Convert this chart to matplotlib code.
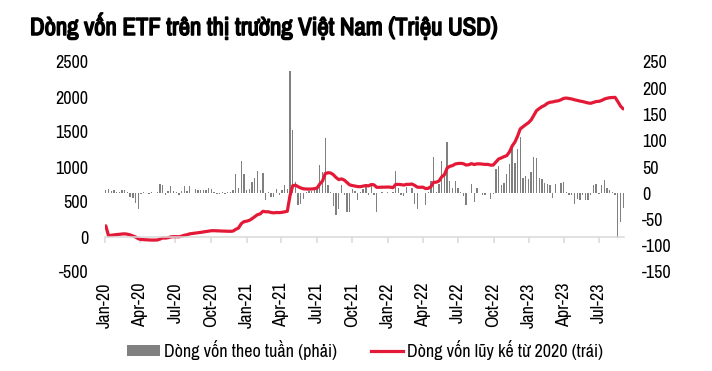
import matplotlib
matplotlib.use("Agg")
import matplotlib.pyplot as plt
import matplotlib.dates as mdates
import matplotlib.patheffects as pe
from matplotlib import font_manager as fm
from matplotlib.patches import Patch
import pandas as pd

# tìm font hẹp nếu có
ten_font = sorted({f.name for f in fm.fontManager.ttflist})
hep = [n for n in ten_font if "narrow" in n.lower() or "condensed" in n.lower()]
plt.rcParams['font.family'] = hep[:1] + ['DejaVu Sans']
plt.rcParams['font.stretch'] = 'condensed'
plt.rcParams['axes.unicode_minus'] = False

# Dòng vốn theo tuần (triệu USD), trục phải
dong_von_tuan = [
    6, 8, 5, 7, 3, 2, 7, 6, 2, -8, -9, -18,
    -30, -2, 2, 1, -2, 2, 1, 3, 18, 16, -4, 5,
    13, 5, 3, -4, 5, 14, 5, 13, 1, 8, 6, 6,
    6, 6, 10, 8, 2, -2, -2, 2, -1, 2, 3, 7,
    37, 10, 62, 37, 7, 8, 22, 29, 43, 7, 39, -12,
    3, -8, -8, 8, -4, 7, 16, 8, 232, 121, 22, -23,
    -20, -11, 3, 5, 5, 7, 8, 53, 41, 105, 15, 2,
    -25, -41, -30, 15, -3, -36, -36, 8, 5, -12, 2, 8,
    11, -4, 13, -4, -35, 1, 2, 1, 3, 0, 3, 42,
    10, -3, -6, 11, 1, 10, -20, -30, 1, 1, -22, 3,
    23, 70, 2, 18, 62, 32, 97, 23, 10, 23, 10, 2,
    -6, -23, 1, 18, -17, 10, 0, -4, -4, 1, -11, -1,
    46, 51, 16, 20, 36, 56, 88, 57, 84, 107, 30, 32,
    27, 40, 69, 67, 29, 27, 19, 18, 15, -9, 18, 1,
    19, 21, 2, -3, -4, -20, -10, -12, -4, -12, -12, -4,
    16, 18, -2, 16, 25, 10, 6, 2, -3, -86, -55, -28,
]

# Dòng vốn lũy kế từ 2020 (triệu USD), trục trái
luy_ke = [
    160, 20, 25, 30, 35, 38, 43, 45, 40, 30, 15, 0,
    -25, -35, -38, -40, -42, -44, -44, -43, -30, -14, -16, -10,
    2, 5, 5, 3, 12, 25, 32, 45, 50, 55, 60, 66,
    72, 77, 84, 90, 90, 88, 86, 85, 84, 82, 81, 85,
    110, 129, 190, 219, 226, 238, 262, 290, 319, 330, 367, 360,
    360, 350, 345, 350, 348, 352, 360, 367, 590, 733, 740, 719,
    700, 688, 686, 684, 686, 690, 700, 757, 800, 905, 918, 915,
    890, 850, 820, 830, 814, 780, 745, 735, 728, 720, 719, 727,
    735, 730, 750, 745, 710, 710, 712, 712, 714, 712, 705, 750,
    752, 748, 742, 752, 752, 757, 738, 712, 710, 712, 693, 695,
    718, 781, 783, 800, 860, 890, 985, 1010, 1020, 1043, 1050, 1052,
    1047, 1028, 1033, 1048, 1035, 1045, 1045, 1041, 1037, 1038, 1027, 1028,
    1072, 1114, 1130, 1148, 1162, 1215, 1300, 1355, 1440, 1545, 1575, 1605,
    1632, 1672, 1740, 1805, 1835, 1862, 1880, 1910, 1925, 1930, 1940, 1945,
    1960, 1980, 1985, 1978, 1972, 1960, 1952, 1942, 1935, 1925, 1915, 1910,
    1922, 1935, 1938, 1950, 1970, 1982, 1990, 1993, 1995, 1935, 1870, 1830,
]

ngay = pd.date_range("2020-01-03", periods=len(dong_von_tuan), freq="7D")

XAM = "#808080"
DO = "#e31937"

fig = plt.figure(figsize=(7.12, 3.71), dpi=100)
ax1 = fig.add_axes([105 / 712, 1 - 272 / 371, 519 / 712, 210 / 371])
ax2 = ax1.twinx()

ax2.bar(ngay, dong_von_tuan, width=3.4, color=XAM, linewidth=0)
ax1.plot(ngay, luy_ke, color=DO, linewidth=2.3, solid_capstyle="round")

ax1.set_zorder(ax2.get_zorder() + 1)
ax1.patch.set_visible(False)

ax1.set_ylim(-500, 2500)
ax1.set_yticks(range(-500, 2501, 500))
ax2.set_ylim(-150, 250)
ax2.set_yticks(range(-150, 251, 50))
ax1.set_xlim(pd.Timestamp("2020-01-01"), pd.Timestamp("2023-09-03"))

ax1.xaxis.set_major_locator(mdates.MonthLocator(bymonth=[1, 4, 7, 10]))
ax1.xaxis.set_major_formatter(mdates.DateFormatter("%b-%y"))

for ax in (ax1, ax2):
    for s in ax.spines.values():
        s.set_visible(False)
ax1.spines["bottom"].set_visible(True)
ax1.spines["bottom"].set_position(("data", 0))
ax1.spines["bottom"].set_color("#d9d9d9")
ax1.spines["bottom"].set_linewidth(1.1)

ax1.tick_params(axis="x", length=4.5, width=1.1, color="#d9d9d9", pad=28,
                labelsize=13, labelrotation=90)
ax1.tick_params(axis="y", length=0, pad=12, labelsize=13)
ax2.tick_params(axis="y", length=0, pad=13, labelsize=13)

fig.text(30 / 712, 1 - 35 / 371, "Dòng vốn ETF trên thị trường Việt Nam (Triệu USD)",
         fontsize=17.8, fontweight="bold", ha="left", va="baseline",
         path_effects=[pe.withStroke(linewidth=1.1, foreground="black")])

h_bar = Patch(facecolor=XAM, edgecolor="none")
h_line, = ax1.plot([], [], color=DO, linewidth=2.3)
fig.legend([h_bar, h_line],
           ["Dòng vốn theo tuần (phải)", "Dòng vốn lũy kế từ 2020 (trái)"],
           loc="center", bbox_to_anchor=(0.513, 1 - 350 / 371), ncol=2,
           frameon=False, fontsize=13, handlelength=1.8, handleheight=0.6,
           handletextpad=0.2, columnspacing=1.9)

fig.savefig("out.png", dpi=100)
